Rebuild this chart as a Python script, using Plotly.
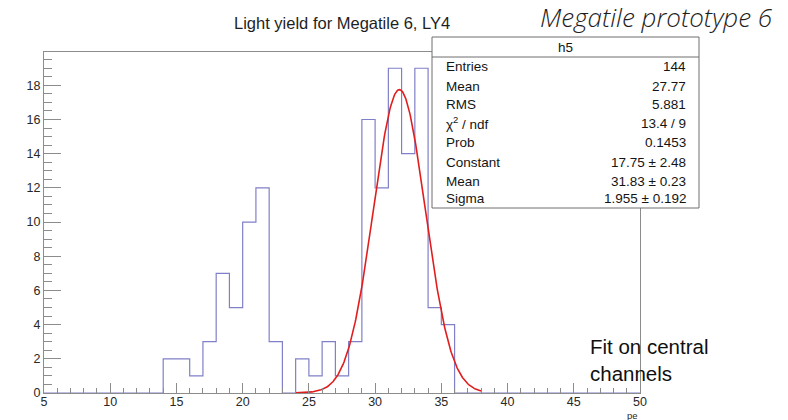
import numpy as np
import plotly.graph_objects as go

# ---- data ----
bin_edges = list(range(5, 51))  # 45 bins of width 1 from 5 to 50
bin_counts = [0, 0, 0, 0, 0, 0, 0, 0, 0,          # 5..13
              2, 2, 1, 3, 7, 5, 10, 12, 3, 0,     # 14..23
              2, 1, 3, 1, 3, 16, 12, 19, 14, 19,  # 24..33
              5, 4,                               # 34..35
              0, 0, 0, 0, 0, 0, 0, 0, 0, 0, 0, 0, 0, 0]  # 36..49
fit_const, fit_mean, fit_sigma = 17.75, 31.83, 1.955
fit_range = (24.0, 38.0)

stats_title = "h5"
stats_labels = ["Entries", "Mean", "RMS", "χ<sup>2</sup> / ndf", "Prob",
                "Constant", "Mean", "Sigma"]
stats_values = ["144", "27.77", "5.881", "13.4 / 9", "0.1453",
                "17.75 ± 2.48", "31.83 ± 0.23", "1.955 ± 0.192"]

title_text = "Light yield for Megatile 6, LY4"
x_title = "pe"
x_ticks = [5, 10, 15, 20, 25, 30, 35, 40, 45, 50]
y_ticks = [0, 2, 4, 6, 8, 10, 12, 14, 16, 18]

# ---- layout geometry (pixels) ----
W, H = 788, 420
L, R, T, B = 44, 640, 52, 393


def px(x):
    return (x - L) / (R - L)


def py(y):
    return (B - y) / (B - T)


hist_x = bin_edges
hist_y = bin_counts + [bin_counts[-1]]

fx = np.linspace(fit_range[0], fit_range[1], 300)
fy = fit_const * np.exp(-0.5 * ((fx - fit_mean) / fit_sigma) ** 2)

hist_color = "rgb(128,128,200)"
fit_color = "rgb(225,30,30)"
frame_color = "rgb(140,140,140)"
text_color = "rgb(40,40,40)"

fig = go.Figure()
fig.add_trace(go.Scatter(x=hist_x, y=hist_y, mode="lines",
                         line=dict(shape="hv", color=hist_color, width=1.2),
                         hoverinfo="skip"))
fig.add_trace(go.Scatter(x=fx, y=fy, mode="lines",
                         line=dict(color=fit_color, width=1.6),
                         hoverinfo="skip"))

axis_font = dict(family="Liberation Sans, Arial, sans-serif", size=12.5, color=text_color)

fig.update_xaxes(range=[5, 50], tickvals=x_ticks, ticks="inside", ticklen=10,
                 tickcolor=frame_color, tickwidth=1, automargin=False,
                 minor=dict(dtick=1, ticks="inside", ticklen=5, tickcolor=frame_color),
                 showline=True, linecolor=frame_color, linewidth=1, mirror=True,
                 showgrid=False, zeroline=False, tickfont=axis_font, ticklabelstandoff=-3)
fig.update_yaxes(range=[0, 19.95], tickvals=y_ticks, ticks="inside", ticklen=17,
                 tickcolor=frame_color, tickwidth=1, automargin=False,
                 minor=dict(dtick=0.5, ticks="inside", ticklen=8, tickcolor=frame_color),
                 showline=True, linecolor=frame_color, linewidth=1, mirror=True,
                 showgrid=False, zeroline=False, tickfont=axis_font)

annotations = []
shapes = []

# title
annotations.append(dict(text=title_text, x=px(342), y=py(23), xref="paper", yref="paper",
                        showarrow=False, xanchor="center", yanchor="middle",
                        font=dict(family="Liberation Sans, Arial, sans-serif", size=16.5,
                                  color="rgb(30,30,30)")))
# big italic label
annotations.append(dict(text="<i>Megatile prototype 6</i>", x=px(656), y=py(17),
                        xref="paper", yref="paper", showarrow=False,
                        xanchor="center", yanchor="middle",
                        font=dict(family="Open Sans, sans-serif", size=26, weight=300,
                                  color="rgb(30,30,30)")))
# axis title
annotations.append(dict(text=x_title, x=px(632), y=py(415), xref="paper", yref="paper",
                        showarrow=False, xanchor="center", yanchor="middle",
                        borderpad=0,
                        font=dict(family="Liberation Sans, Arial, sans-serif", size=9.5,
                                  color=text_color)))
# fit text
annotations.append(dict(text="Fit on central<br>channels", x=px(588), y=py(360),
                        xref="paper", yref="paper", showarrow=False,
                        xanchor="left", yanchor="middle", align="left",
                        font=dict(family="Liberation Sans, Arial, sans-serif", size=20.5,
                                  color="rgb(15,15,15)")))

# stats box
bx0, bx1, by0, by1 = 432, 699, 37, 208
shapes.append(dict(type="rect", xref="paper", yref="paper",
                   x0=px(bx0), x1=px(bx1), y0=py(by1), y1=py(by0),
                   fillcolor="white", line=dict(color="rgb(110,110,110)", width=1),
                   layer="above"))
shapes.append(dict(type="line", xref="paper", yref="paper",
                   x0=px(bx0), x1=px(bx1), y0=py(57), y1=py(57),
                   line=dict(color="rgb(110,110,110)", width=1), layer="above"))
stats_font = dict(family="Liberation Sans, Arial, sans-serif", size=13.5, color="rgb(20,20,20)")
annotations.append(dict(text=stats_title, x=px((bx0 + bx1) / 2), y=py(47),
                        xref="paper", yref="paper", showarrow=False,
                        xanchor="center", yanchor="middle", font=stats_font))
row_y = [67, 86, 104.5, 123, 142.5, 162, 181, 199]
for lab, val, ry in zip(stats_labels, stats_values, row_y):
    annotations.append(dict(text=lab, x=px(444), y=py(ry), xref="paper", yref="paper",
                            showarrow=False, xanchor="left", yanchor="middle",
                            font=stats_font))
    annotations.append(dict(text=val, x=px(688), y=py(ry), xref="paper", yref="paper",
                            showarrow=False, xanchor="right", yanchor="middle",
                            font=stats_font))

fig.update_layout(width=W, height=H, margin=dict(l=L, r=W - R, t=T, b=H - B),
                  paper_bgcolor="white", plot_bgcolor="white", showlegend=False,
                  annotations=annotations, shapes=shapes)

fig.write_html("out.html")
